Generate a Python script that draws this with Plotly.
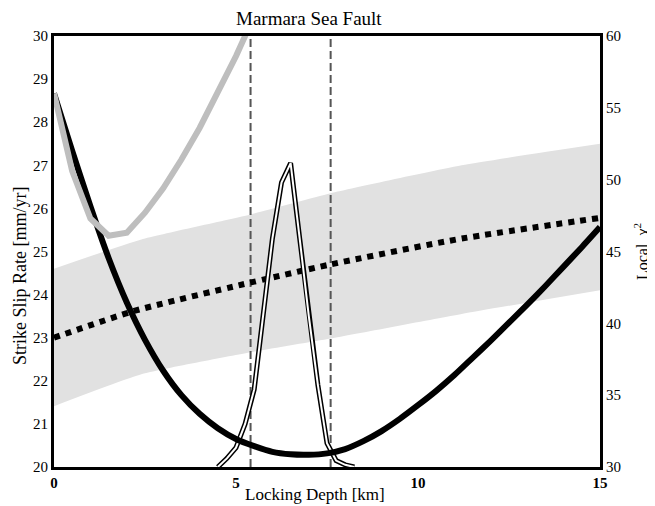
import plotly.graph_objects as go

# ---- data ----
depth = [0, 0.5, 1, 1.5, 2, 2.5, 3, 3.5, 4, 4.5, 5, 5.5, 6, 6.5, 7, 7.5, 8, 8.5, 9, 9.5,
         10, 10.5, 11, 11.5, 12, 12.5, 13, 13.5, 14, 14.5, 15]
chi2_local = [56.0, 52.0, 48.15, 44.55, 41.45, 38.85, 36.7, 35.0, 33.7, 32.7, 31.95, 31.45, 31.05,
              30.88, 30.85, 30.95, 31.25, 31.8, 32.5, 33.35, 34.3, 35.3, 36.4, 37.6, 38.8, 40.05,
              41.3, 42.6, 43.95, 45.3, 46.7]

gray_depth = [0, 0.5, 1, 1.5, 2, 2.5, 3, 3.5, 4, 4.5, 5, 5.5]
chi2_alt = [56.0, 50.6, 47.3, 46.1, 46.3, 47.7, 49.4, 51.4, 53.6, 56.0, 58.6, 61.4]

band_depth = [0, 2.4, 5.4, 7.6, 11.2, 15]
rate_upper = [24.6, 25.28, 25.86, 26.35, 27.0, 27.5]
rate_lower = [21.41, 22.15, 22.66, 22.98, 23.55, 24.1]

rate_depth = [0, 2.2, 5.2, 7.6, 11.2, 15]
slip_rate = [23.0, 23.62, 24.24, 24.7, 25.3, 25.78]

pdf_depth = [4.5, 4.75, 5.0, 5.25, 5.5, 5.75, 6.0, 6.25, 6.5, 6.75, 7.0, 7.25, 7.5, 7.75, 8.0, 8.25]
pdf_value = [20.0, 20.2, 20.45, 21.0, 21.8, 23.5, 25.3, 26.6, 27.05, 25.3, 23.5, 21.9, 20.55,
             20.15, 20.05, 20.0]

bounds = [5.4, 7.6]

FONT = "Liberation Serif"

fig = go.Figure()

# uncertainty band
fig.add_trace(go.Scatter(x=band_depth, y=rate_lower, mode="lines",
                         line=dict(width=0, shape="spline", smoothing=0.5),
                         hoverinfo="skip", showlegend=False))
fig.add_trace(go.Scatter(x=band_depth, y=rate_upper, mode="lines",
                         line=dict(width=0, shape="spline", smoothing=0.5),
                         fill="tonexty", fillcolor="#e1e1e1", hoverinfo="skip", showlegend=False))

# dashed bounds
for b in bounds:
    fig.add_trace(go.Scatter(x=[b, b], y=[20, 30], mode="lines",
                             line=dict(color="#555555", width=2, dash="8px,4px"),
                             showlegend=False))

# slip rate (dotted)
fig.add_trace(go.Scatter(x=rate_depth, y=slip_rate, mode="lines",
                         line=dict(color="black", width=6, dash="dot", shape="spline", smoothing=0.6),
                         showlegend=False))

# chi2 curves on right axis
fig.add_trace(go.Scatter(x=depth, y=chi2_local, mode="lines", yaxis="y2",
                         line=dict(color="black", width=6, shape="spline", smoothing=0.6),
                         showlegend=False))
fig.add_trace(go.Scatter(x=gray_depth, y=chi2_alt, mode="lines", yaxis="y2",
                         line=dict(color="#bebebe", width=6), showlegend=False))

# probability distribution (double line)
fig.add_trace(go.Scatter(x=pdf_depth, y=pdf_value, mode="lines",
                         line=dict(color="black", width=5), showlegend=False))
fig.add_trace(go.Scatter(x=pdf_depth, y=pdf_value, mode="lines",
                         line=dict(color="white", width=2), showlegend=False))

# the page body adds an 8px margin, so the figure is 8px smaller and offset
W, H = 647, 498
L, T = 46, 28
PW, PH = 546, 431


def px_x(px):
    return (px - 8 - L) / PW


def px_y(py):
    return (T + PH - (py - 8)) / PH


annotations = [
    dict(text="Marmara Sea Fault", x=px_x(309), y=px_y(18.5), font=dict(size=19)),
    dict(text="Locking Depth [km]", x=px_x(315), y=px_y(494), font=dict(size=17)),
    dict(text="Strike Slip Rate [mm/yr]", x=px_x(20), y=px_y(276), textangle=-90,
         font=dict(size=18)),
    dict(text="Local  χ<sup>2</sup>", x=px_x(641), y=px_y(252), textangle=-90,
         font=dict(size=16)),
]
for a in annotations:
    a.update(xref="paper", yref="paper", xanchor="center", yanchor="middle", showarrow=False)
    a["font"].update(family=FONT, color="black")

fig.update_layout(
    width=W, height=H,
    margin=dict(l=L, r=W - L - PW, t=T, b=H - T - PH),
    paper_bgcolor="white", plot_bgcolor="white",
    font=dict(family=FONT, size=15, color="black"),
    annotations=annotations,
    xaxis=dict(range=[0, 15], tickvals=[0, 5, 10, 15], showgrid=False, zeroline=False,
               showline=True, linecolor="black", linewidth=3, mirror=True, ticks="",
               automargin=False, tickfont=dict(family=FONT, size=15, weight="bold")),
    yaxis=dict(range=[20, 30], tickvals=list(range(20, 31)), showgrid=False, zeroline=False,
               showline=True, linecolor="black", linewidth=3, ticks="", automargin=False,
               tickfont=dict(family=FONT, size=15)),
    yaxis2=dict(range=[30, 60], tickvals=[30, 35, 40, 45, 50, 55, 60], overlaying="y", side="right",
                showgrid=False, zeroline=False, showline=True, linecolor="black", linewidth=3,
                ticks="", automargin=False, tickfont=dict(family=FONT, size=15)),
)

fig.write_html("out.html")
